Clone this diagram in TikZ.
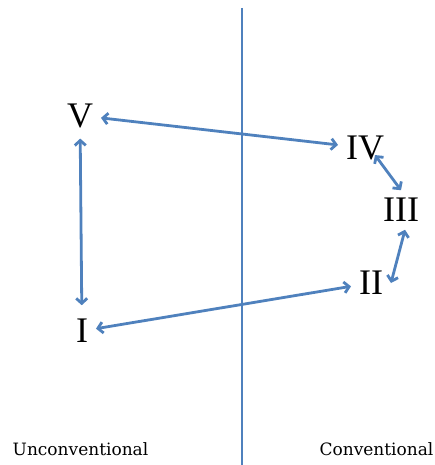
\documentclass[tikz,border=0pt]{standalone}
\usepackage{fontspec}
\setmainfont{Liberation Serif}
\newfontfamily\labelfont{DejaVu Serif}
\usetikzlibrary{arrows.meta}
\definecolor{wordblue}{HTML}{4F81BD}
\tikzset{
  numeral/.style={inner sep=8pt, outer sep=0pt, font=\fontsize{36}{42}\selectfont},
  side/.style={anchor=base, inner sep=0pt, font=\labelfont\fontsize{17}{20}\selectfont},
  link/.style={{Straight Barb[length=5pt,width=11pt]}-{Straight Barb[length=5pt,width=11pt]},
    line width=2.8pt, wordblue},
}
\begin{document}
\begin{tikzpicture}[x=1pt, y=-1pt]
  \useasboundingbox (0,0) rectangle (435,465);
  % divider
  \coordinate (top) at (242,8);
  \coordinate (bot) at (242,465);
  \draw[wordblue, line width=1.4pt] (top) -- (bot);
  % stages
  \node[numeral] (v)   at (80,115.5) {V};
  \node[numeral] (iv)  at (365,148)  {IV};
  \node[numeral] (iii) at (401,210)  {III};
  \node[numeral] (ii)  at (371,283)  {II};
  \node[numeral] (i)   at (82,331)   {I};
  % links
  \draw[link] (v) -- (iv);
  \draw[link, shorten <=3pt, shorten >=6pt] (v) -- (i);
  \draw[link] (i) -- (ii);
  \draw[link] ([shift={(-17pt,13pt)}]iv.south east) -- (iii.north);
  \draw[link] ([xshift=4pt]iii.south) -- (ii.east);
  % sides
  \node[side] (uncon) at (80.5,455) {Unconventional};
  \node[side] (con)   at (376.5,455) {Conventional};
\end{tikzpicture}
\end{document}
